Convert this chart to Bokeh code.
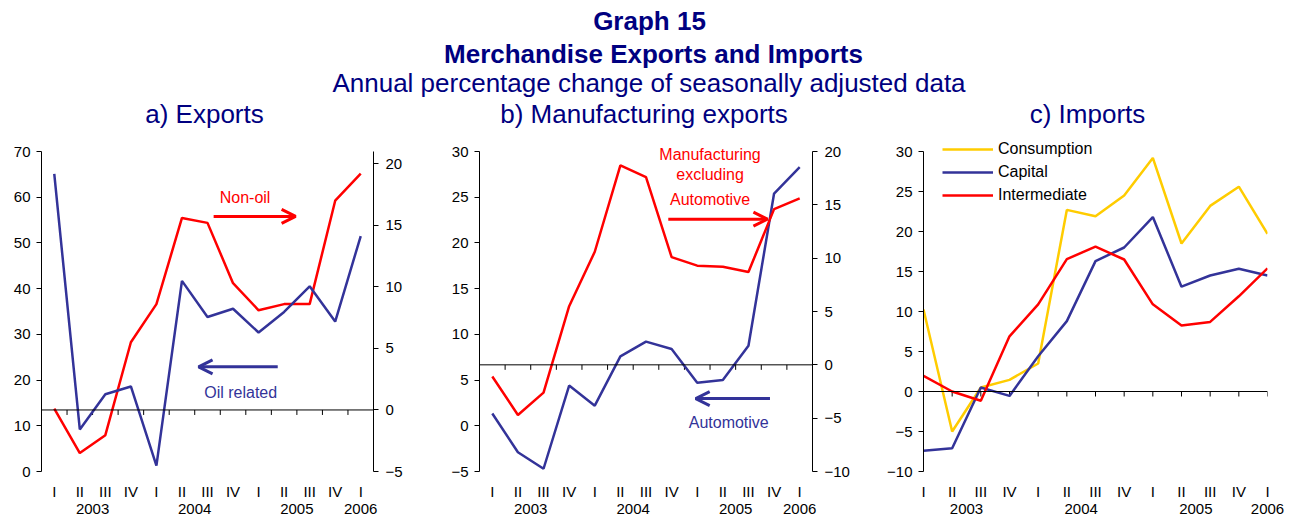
from bokeh.plotting import figure
from bokeh.models import (Range1d, LinearAxis, FixedTicker, Span, Label, Arrow,
                          OpenHead, Legend, LegendItem)
from bokeh.layouts import column, row
from bokeh.embed import file_html
from bokeh.resources import INLINE

# ---------------- data ----------------
quarters = ["I", "II", "III", "IV", "I", "II", "III", "IV", "I", "II", "III", "IV", "I"]
years = ["2003", "2004", "2005", "2006"]
year_pos = [1.5, 5.5, 9.5, 12]

# a) Exports
oil_related = [65.1, 9.2, 16.9, 18.6, 1.3, 41.7, 33.8, 35.6, 30.4, 34.9, 40.5, 32.8, 51.5]   # left axis
non_oil = [0.1, -3.5, -2.05, 5.5, 8.6, 15.6, 15.2, 10.3, 8.1, 8.6, 8.6, 17.0, 19.2]          # right axis
# b) Manufacturing exports
automotive = [1.35, -2.9, -4.7, 4.4, 2.2, 7.6, 9.2, 8.4, 4.7, 5.0, 8.75, 25.4, 28.3]        # left axis
manuf_ex_auto = [-1.1, -4.7, -2.6, 5.5, 10.6, 18.7, 17.6, 10.1, 9.3, 9.2, 8.7, 14.6, 15.6]  # right axis
# c) Imports
consumption = [10.25, -5.0, 0.5, 1.45, 3.5, 22.7, 21.9, 24.5, 29.2, 18.5, 23.2, 25.6, 19.7]
capital = [-7.4, -7.1, 0.5, -0.55, 4.4, 8.8, 16.3, 18.0, 21.8, 13.1, 14.5, 15.35, 14.5]
intermediate = [1.95, 0.0, -1.15, 6.9, 10.9, 16.55, 18.1, 16.5, 10.9, 8.25, 8.7, 11.9, 15.4]

xs = list(range(len(quarters)))

FONT = "Liberation Sans"
NAVY = "#000080"
RED = "#FF0000"
BLUE = "#333399"
YELLOW = "#FFCC00"
LW = 2.5
FRAME_H = 320      # px between the lowest and highest tick of the value axes
PANEL_H = 386
TITLE_H = 130
TOP = 21           # gap between panel canvas top and the top tick
EXTRA = 18         # extra frame above the top tick (room for texts / legend)


def ext(lo, hi):
    return Range1d(lo, hi + EXTRA * (hi - lo) / FRAME_H)


def style_axis(ax, standoff=6):
    ax.major_label_text_font = FONT
    ax.major_label_text_font_size = "15px"
    ax.major_label_text_color = "black"
    ax.axis_line_color = "black"
    ax.major_tick_line_color = "black"
    ax.major_tick_out = 5
    ax.major_tick_in = 0
    ax.minor_tick_line_color = None
    ax.major_label_standoff = standoff


def style_xaxis(ax, standoff):
    ax.axis_line_color = None
    ax.major_tick_line_color = None
    ax.minor_tick_line_color = None
    ax.major_tick_out = 0
    ax.major_tick_in = 0
    ax.minor_tick_out = 0
    ax.major_label_text_font = FONT
    ax.major_label_text_font_size = "15px"
    ax.major_label_text_color = "black"
    ax.major_label_standoff = standoff


def make_panel(width, bl, br, xr, yr, lticks):
    lo, hi = yr
    p = figure(width=width, height=PANEL_H, x_range=Range1d(*xr), y_range=ext(lo, hi),
               output_backend="svg", toolbar_location=None,
               min_border_left=bl, min_border_right=br, min_border_top=TOP - EXTRA,
               min_border_bottom=PANEL_H - TOP - FRAME_H)
    p.outline_line_color = None
    p.grid.visible = False
    xa = p.xaxis[0]
    xa.ticker = FixedTicker(ticks=xs)
    xa.major_label_overrides = {i: q for i, q in enumerate(quarters)}
    style_xaxis(xa, 11)
    ya_years = LinearAxis(ticker=FixedTicker(ticks=year_pos),
                          major_label_overrides={yp: yt for yp, yt in zip(year_pos, years)})
    style_xaxis(ya_years, 1)
    p.add_layout(ya_years, "below")
    ya = p.yaxis[0]
    ya.ticker = FixedTicker(ticks=lticks)
    ya.bounds = (lo, hi)
    style_axis(ya)
    return p


def add_right(p, lo, hi, rticks):
    p.extra_y_ranges = {"right": ext(lo, hi)}
    ax = LinearAxis(y_range_name="right", ticker=FixedTicker(ticks=rticks), bounds=(lo, hi))
    style_axis(ax, 7)
    p.add_layout(ax, "right")


def zero_line_ticks(p, tick_x, span_lo, span_hi, range_name=None):
    tick_len = 5 * (span_hi - span_lo) / FRAME_H
    kw = {"y_range_name": range_name} if range_name else {}
    p.add_layout(Span(location=0, dimension="width", line_color="black", line_width=1, **kw))
    p.segment(x0=tick_x, y0=[0] * len(tick_x), x1=tick_x, y1=[-tick_len] * len(tick_x),
              line_color="black", line_width=1, **kw)


def label(p, x, y, text, color, align="center"):
    p.add_layout(Label(x=x, y=y, text=text, text_align=align, text_baseline="alphabetic",
                       text_font=FONT, text_font_size="16px", text_color=color))


def arrow(p, x0, x1, y, color):
    p.add_layout(Arrow(end=OpenHead(size=14, line_color=color, line_width=3),
                       x_start=x0, y_start=y, x_end=x1, y_end=y,
                       line_color=color, line_width=3))


between = [i + 0.5 for i in range(12)]

# ---------------- panel a ----------------
pa = make_panel(428, 41, 55, (-0.5, 12.5), (0, 70), list(range(0, 71, 10)))
add_right(pa, -5, 21, [-5, 0, 5, 10, 15, 20])
zero_line_ticks(pa, between, -5, 21, "right")
pa.line(xs, non_oil, line_color=RED, line_width=LW, y_range_name="right")
pa.line(xs, oil_related, line_color=BLUE, line_width=LW)
label(pa, 7.47, 59.9, "Non-oil", RED)
arrow(pa, 6.24, 9.45, 55.8, RED)
arrow(pa, 8.75, 5.65, 22.9, BLUE)
label(pa, 7.30, 17.3, "Oil related", BLUE)

# ---------------- panel b ----------------
pb = make_panel(440, 51, 56, (-0.5, 12.5), (-5, 30), list(range(-5, 31, 5)))
add_right(pb, -10, 20, list(range(-10, 21, 5)))
zero_line_ticks(pb, between, -10, 20, "right")
pb.line(xs, automotive, line_color=BLUE, line_width=LW)
pb.line(xs, manuf_ex_auto, line_color=RED, line_width=LW, y_range_name="right")
label(pb, 8.5, 29.66, "Manufacturing", RED)
label(pb, 8.5, 27.49, "excluding", RED)
label(pb, 8.5, 24.72, "Automotive", RED)
arrow(pb, 6.87, 10.74, 22.6, RED)
arrow(pb, 10.84, 7.94, 2.98, BLUE)
label(pb, 9.23, 0.41, "Automotive", BLUE)

# ---------------- panel c ----------------
pc = make_panel(417, 55, 18, (0, 12), (-10, 30), list(range(-10, 31, 5)))
zero_line_ticks(pc, list(range(1, 13)), -10, 30)
r1 = pc.line(xs, consumption, line_color=YELLOW, line_width=LW)
r2 = pc.line(xs, capital, line_color=BLUE, line_width=LW)
r3 = pc.line(xs, intermediate, line_color=RED, line_width=LW)
legend = Legend(items=[LegendItem(label="Consumption", renderers=[r1]),
                       LegendItem(label="Capital", renderers=[r2]),
                       LegendItem(label="Intermediate", renderers=[r3])],
                location=(19, 266), orientation="vertical",
                background_fill_alpha=0, border_line_color=None,
                padding=0, margin=0, spacing=3, glyph_width=51, glyph_height=20,
                label_height=20, label_standoff=5,
                label_text_font=FONT, label_text_font_size="16px",
                label_text_color="black")
pc.add_layout(legend)

# ---------------- titles ----------------
pt = figure(width=1285, height=TITLE_H, x_range=Range1d(0, 1285), y_range=Range1d(0, TITLE_H),
            output_backend="svg", toolbar_location=None, min_border=0,
            x_axis_location=None, y_axis_location=None)
pt.outline_line_color = None
pt.grid.visible = False


def tlabel(x, y, text, bold=False):
    pt.add_layout(Label(x=x, y=TITLE_H - y + 8.5, text=text, text_align="center",
                        text_baseline="alphabetic",
                        text_font=FONT, text_font_size="26px",
                        text_font_style="bold" if bold else "normal", text_color=NAVY))


tlabel(649, 29.3, "Graph 15", True)
tlabel(653, 61.7, "Merchandise Exports and Imports", True)
tlabel(648.5, 90.7, "Annual percentage change of seasonally adjusted data")
tlabel(204, 122, "a) Exports")
tlabel(643.5, 122, "b) Manufacturing exports")
tlabel(1087, 122, "c) Imports")

layout = column(pt, row(pa, pb, pc))
open("out.html", "w").write(file_html(layout, INLINE))
